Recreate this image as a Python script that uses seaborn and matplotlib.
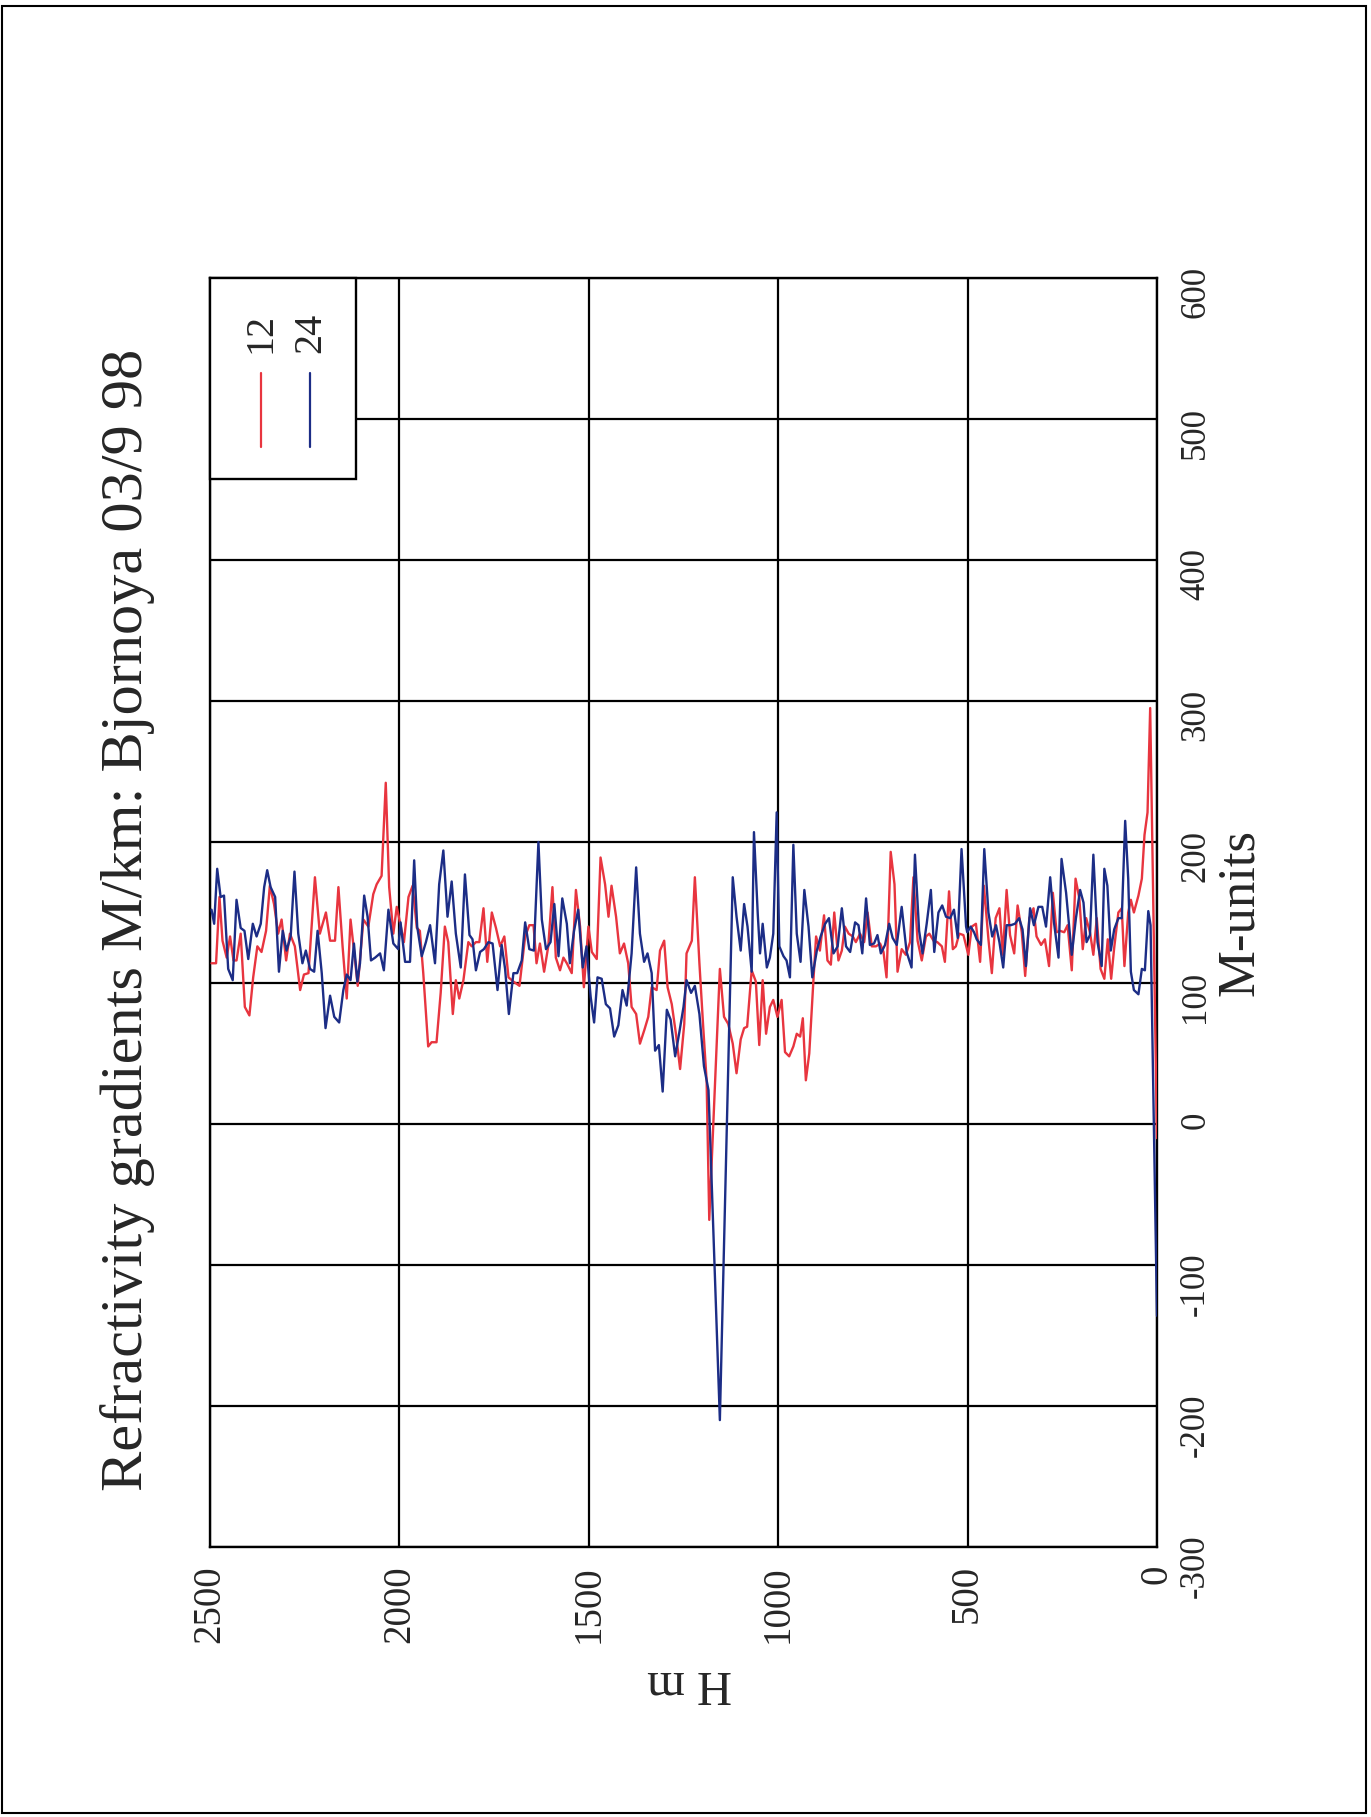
import numpy as np
import pandas as pd
import matplotlib
matplotlib.use("Agg")
import matplotlib.pyplot as plt
from matplotlib.patches import Rectangle
import seaborn as sns

# ---------------- data ----------------
title = "Refractivity gradients M/km: Bjornoya 03/9 98"
x_label = "H m"
y_label = "M-units"
series_names = ["12", "24"]
h_ticks = [2500, 2000, 1500, 1000, 500, 0]
m_ticks = [-300, -200, -100, 0, 100, 200, 300, 400, 500, 600]

red_h = [2496, 2484, 2475, 2467, 2456, 2447, 2438, 2430, 2419, 2408, 2396, 2386, 2375, 2364, 2352, 2342,
         2331, 2320, 2311, 2299, 2289, 2276, 2262, 2252, 2240, 2223, 2210, 2194, 2183, 2170, 2161, 2150,
         2139, 2129, 2119, 2110, 2095, 2082, 2069, 2060, 2047, 2036, 2027, 2016, 2007, 2000,
         1988, 1976, 1965, 1954, 1946, 1937, 1924, 1915, 1902, 1891, 1880, 1871, 1859, 1851, 1842, 1831,
         1818, 1809, 1798, 1789, 1778, 1768, 1756, 1745, 1734, 1723, 1712, 1699, 1683, 1668, 1657, 1646,
         1638, 1629, 1618, 1607, 1596, 1587, 1576, 1567, 1558, 1545, 1534, 1523, 1513, 1501,
         1492, 1479, 1469, 1457, 1448, 1440, 1428, 1418, 1407, 1396, 1387, 1375, 1365, 1353, 1343, 1334,
         1321, 1312, 1301, 1292, 1281, 1270, 1259, 1248, 1242, 1228, 1220, 1208, 1198, 1189, 1182, 1154,
         1143, 1132, 1120, 1110, 1099, 1090, 1082, 1070, 1059, 1050, 1041, 1032, 1022, 1013, 1002,
         991, 982, 971, 960, 951, 942, 935, 927, 918, 907, 900, 890, 879, 870, 861, 852, 841, 832, 824,
         814, 803, 795, 784, 773, 764, 753, 742, 731, 722, 714, 703, 693, 685, 674, 663, 652, 643, 632,
         621, 610, 601, 590, 580, 568, 560, 549, 539, 531, 522, 511,
         498, 489, 478, 467, 457, 445, 436, 426, 416, 407, 397, 388, 377, 368, 357, 348, 337, 326, 318,
         306, 296, 285, 275, 265, 256, 245, 236, 225, 215, 205, 196, 187, 177, 168, 159, 149, 139, 130,
         121, 113, 102, 93, 86, 76, 69, 61, 49, 40, 33, 25, 18, 0]
red_m = [114, 114, 161, 130, 118, 133, 116, 116, 135, 83, 77, 104, 126, 122, 137, 169,
         156, 135, 145, 116, 135, 126, 95, 106, 107, 175, 135, 150, 130, 130, 168, 126,
         89, 145, 121, 98, 145, 140, 163, 170, 176, 242, 168, 135, 154, 145,
         129, 161, 169, 139, 137, 107, 55, 58, 58, 93, 140, 129, 78, 102, 89, 102,
         129, 126, 129, 129, 153, 115, 150, 139, 126, 133, 104, 101, 98, 133, 141, 141,
         114, 128, 108, 126, 168, 118, 109, 118, 114, 107, 166, 140, 97, 140,
         122, 117, 189, 170, 147, 169, 147, 121, 128, 114, 83, 78, 57, 67, 76, 97,
         95, 123, 130, 97, 85, 64, 39, 71, 121, 130, 175, 114, 69, 31, -68, 110,
         76, 71, 57, 36, 60, 68, 69, 109, 101, 56, 102, 64, 83, 88, 76,
         88, 51, 48, 55, 64, 62, 75, 31, 50, 102, 133, 123, 148, 116, 113, 150, 116, 123, 140,
         135, 133, 129, 135, 129, 150, 126, 126, 128, 122, 104, 193, 170, 108, 124, 120, 129, 175, 130,
         116, 133, 135, 130, 129, 126, 115, 165, 124, 126, 135, 134,
         120, 140, 142, 115, 169, 131, 107, 146, 153, 120, 166, 134, 121, 155, 136, 105, 146, 153, 133,
         127, 131, 112, 164, 136, 137, 136, 141, 109, 174, 160, 124, 146, 136, 120, 146, 110, 103, 131,
         103, 125, 150, 153, 112, 150, 159, 150, 162, 174, 205, 221, 295, -10]

blue_h = [2496, 2489, 2481, 2472, 2463, 2452, 2440, 2430, 2419, 2409, 2399, 2387, 2377, 2366, 2357, 2349,
          2340, 2328, 2318, 2308, 2298, 2287, 2277, 2267, 2256, 2247, 2236, 2225, 2216, 2205, 2195, 2183,
          2172, 2159, 2148, 2139, 2129, 2120, 2111, 2104, 2093, 2084, 2075, 2064, 2051, 2041, 2029, 2016, 2003,
          1997, 1985, 1972, 1961, 1953, 1941, 1930, 1919, 1906, 1895, 1884, 1873, 1862, 1851, 1838, 1827,
          1815, 1807, 1798, 1787, 1777, 1765, 1754, 1741, 1730, 1721, 1711, 1699, 1689, 1677, 1668, 1657,
          1645, 1633, 1624, 1613, 1601, 1591, 1580, 1570, 1558, 1550, 1539, 1528, 1516, 1506, 1499,
          1495, 1486, 1477, 1466, 1455, 1444, 1433, 1422, 1411, 1400, 1387, 1375, 1365, 1354, 1345, 1334,
          1325, 1315, 1305, 1294, 1284, 1272, 1261, 1250, 1242, 1230, 1220, 1208, 1196, 1184, 1154, 1120,
          1110, 1099, 1090, 1081, 1070, 1064, 1054, 1048, 1041, 1030, 1022, 1013, 1004,
          997, 986, 978, 969, 960, 951, 941, 931, 920, 910, 898, 888, 876, 866, 854, 843, 832, 821, 810,
          797, 788, 778, 768, 758, 747, 738, 729, 718, 707, 698, 687, 674, 661, 648, 639, 628, 619, 608,
          597, 588, 577, 567, 557, 546, 536, 526, 516, 504,
          501, 492, 483, 476, 465, 456, 445, 435, 425, 416, 406, 397, 386, 375, 364, 355, 346, 335, 325,
          313, 303, 293, 282, 272, 260, 252, 240, 225, 214, 203, 194, 186, 177, 168, 157, 146, 139, 131,
          122, 113, 102, 93, 84, 76, 69, 61, 49, 40, 32, 23, 17, 0]
blue_m = [152, 142, 181, 161, 162, 110, 102, 159, 139, 137, 117, 142, 133, 142, 168, 180,
          168, 161, 108, 137, 123, 133, 179, 135, 114, 123, 110, 108, 137, 107, 68, 91,
          76, 72, 95, 106, 102, 128, 101, 114, 162, 147, 116, 118, 121, 109, 152, 128, 124,
          143, 115, 115, 187, 140, 119, 129, 141, 114, 170, 194, 147, 172, 135, 111, 177,
          134, 131, 109, 122, 124, 129, 128, 95, 127, 110, 78, 107, 107, 116, 143, 124,
          123, 200, 145, 124, 129, 156, 119, 160, 142, 114, 137, 152, 111, 126, 102,
          90, 72, 104, 103, 85, 82, 62, 70, 95, 84, 121, 182, 135, 115, 121, 107,
          52, 56, 23, 81, 74, 48, 65, 83, 102, 93, 98, 78, 41, 24, -210, 175,
          147, 123, 156, 140, 108, 207, 149, 121, 142, 111, 118, 135, 221,
          126, 119, 116, 104, 198, 135, 115, 166, 140, 104, 123, 133, 142, 146, 121, 126, 153, 126, 122,
          143, 141, 121, 160, 127, 128, 134, 121, 127, 142, 132, 127, 154, 122, 111, 191, 137, 121, 142,
          166, 122, 150, 155, 147, 146, 152, 132, 195, 140,
          136, 140, 136, 131, 127, 195, 150, 133, 141, 129, 111, 141, 141, 142, 146, 138, 112, 153, 141,
          154, 154, 140, 175, 143, 118, 188, 164, 120, 146, 166, 157, 129, 134, 191, 129, 112, 181, 169,
          123, 138, 146, 146, 215, 174, 108, 95, 92, 110, 109, 151, 141, -136]

RED = "#e8353f"
BLUE = "#1c2d86"

df = pd.concat([
    pd.DataFrame({"H": red_h, "M": red_m, "series": series_names[0]}),
    pd.DataFrame({"H": blue_h, "M": blue_m, "series": series_names[1]}),
], ignore_index=True)

# ---------------- figure ----------------
sns.set_style("white")
plt.rcParams["font.family"] = ["Liberation Serif", "DejaVu Serif"]

W, Hpx = 1371, 1817
fig = plt.figure(figsize=(W / 100, Hpx / 100), dpi=100)
fig.patch.set_facecolor("white")

ax_l, ax_r, ax_t, ax_b = 210, 1157, 278, 1547
ax = fig.add_axes([ax_l / W, 1 - ax_b / Hpx, (ax_r - ax_l) / W, (ax_b - ax_t) / Hpx])

sns.lineplot(data=df, x="H", y="M", hue="series", palette={"12": RED, "24": BLUE},
             estimator=None, sort=False, legend=False, lw=1.7, ax=ax, zorder=3)

ax.set_xlim(2500, 0)
ax.set_ylim(-300, 600)
ax.set_xticks(h_ticks)
ax.set_yticks(m_ticks)
ax.set_xticklabels([str(t) for t in h_ticks], rotation=90, fontsize=28)
ax.set_yticklabels([str(t) for t in m_ticks], rotation=90, fontsize=25)
ax.yaxis.tick_right()
ax.tick_params(axis="both", length=0)
ax.tick_params(axis="x", pad=13)
ax.tick_params(axis="y", pad=16)
ax.set_xlabel("")
ax.set_ylabel("")
ax.grid(True, color="black", lw=1.6)
for sp in ax.spines.values():
    sp.set_visible(True)
    sp.set_color("black")
    sp.set_linewidth(1.7)

# legend (rotated, drawn manually in axes coordinates)
ax.add_patch(Rectangle((0, 0.842), 0.154, 0.158, transform=ax.transAxes,
                       facecolor="white", edgecolor="black", lw=1.7, zorder=5, clip_on=False))
for xc, name, col in [(0.054, series_names[0], RED), (0.106, series_names[1], BLUE)]:
    ax.plot([xc, xc], [0.867, 0.925], transform=ax.transAxes, color=col, lw=1.6, zorder=6)
    ax.text(xc, 0.941, name, transform=ax.transAxes, rotation=90, ha="center", va="bottom",
            fontsize=29, zorder=6)

# titles / labels (rotated page)
fig.text(128 / W, 1 - 920 / Hpx, title, rotation=90, ha="center", va="center", fontsize=43.5)
fig.text(1240 / W, 1 - 912 / Hpx, y_label, rotation=90, ha="center", va="center", fontsize=38)
fig.text(690 / W, 1 - 1683 / Hpx, x_label, rotation=180, ha="center", va="center", fontsize=35)

# scanned page border
fig.add_artist(Rectangle((2 / W, 1 - 1813 / Hpx), 1364 / W, 1807 / Hpx, transform=fig.transFigure,
                         fill=False, edgecolor="black", lw=1.5))

fig.savefig("out.png", dpi=100, facecolor="white")
